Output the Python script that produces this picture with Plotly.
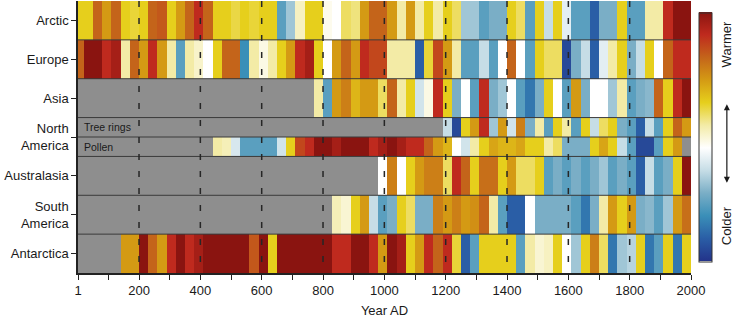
import plotly.graph_objects as go

# ---------------- data ----------------
# 30-year bins ending at 2000 (first bin 1-20)
bin_edges = [1] + list(range(20, 2001, 30))

N = None
arctic = [2, 2, 4, 3, 4, 2, 1.8, 2, 4, 4.2, 2, 3, 4, 5, 4, 2, 2, 1.7, 2, 1.8, 2, 2,
          -2.5, -1.5, 0.7, 2, 2, 0.2, 0, 1.5, 1.3, 3, 4, 4, 3, 1, 3, 1, 2, 1, 2, 1.5,
          -1.5, -1.5, -2.5, -2, -2, 2, 1.5, -2.5, 2, -1, 2, -0.5, -2.5, -2.5, -4, -2, -2,
          2, -2.5, -2.5, 1, 1, 5, 6, 6]
europe = [4, 6, 6, 5, 5.5, 1, 4, 3, 5, 3, 1, -2.5, 1, 0.6, 0, 2, 4, 4, -3, 1, 0.3, 1,
          2, 3, 5, 5.5, 2, 0, 3, 4, 3, 5, 4.5, 4.5, 1, 1, 1, -4, 1.8, 4.5, 3, 1, -2.5,
          -2.5, -1, -2.5, 0, 4, 0, -2.5, 2, 1.5, 1.5, -4.5, -2, -1, -4, -0.5, 1, 2, -2,
          -1, 2, 0, 4, 5, 5]
asia = [N] * 26 + [1, -2.5, 3, 3.5, 2.5, 3, 3, 1.5, 4, 1, 2, -0.8, 0.3, 5, 2, -2, 0,
                   -2.5, 5, -2, -1.5, 0, -2.5, -3.5, -2, 2, 0, -2.5, 3, -2, 0, 0, -1.5,
                   1, -2.5, -2, -1.8, 4, 2, 5, 6]
na_tree = [N] * 40 + [-1, -4.5, 2, 3, 5, -1.5, 3, -0.8, 3.5, -2, 1, -2.5, 2, 1, -2.5,
                      2, -1, 1.5, 2, -2, -2.5, -4, -1, -2.5, 2, 4, 3]
na_pollen = [N] * 15 + [1, 0.8, -0.7, -2.5, -2.5, -2.5, -2.5, -0.8, 2, 4.5, 5, 6, 6,
                        5.5, 6, 6, 6, 5, 5.5, 6, 5.5, 5, 5, 4, 3, 2.5, 0, -0.8, 1, 2,
                        2.8, 2.5, 2.5, 2.8, 2, 2, 1, 1.5, -2, -2, -2, 2, 2.8, 2, -1,
                        -2.5, -4.5, -4.5, -2.5, 2, 3, N]
australasia = [N] * 33 + [0, 3.5, 0, 2, 3, 3.5, 3.5, 1.5, 5, 4, 2, 3.8, 3.8, 2, 3,
                          1.5, 1.5, 2, -2.5, -2, -2.5, -2, -2.5, -2, -1.5, -2.5, -2,
                          -2.5, -4, -1, -2.5, -2, 2, 6]
s_america = [N] * 28 + [0.8, 0.5, 2, 3, -1, -2.5, -2, 2, 1.5, -2, -2, 3.5, 3, 3.5, 3,
                        3.2, 4, 1, -2.5, -4, -4, 0, -2, -2, -2, -2, -2.5, -3.5, -2, 1,
                        3, 2, 3, -2, -1.8, -2.5, -1.5, 3, 3.8]
antarctica = [N] * 5 + [3, 3, 6, 4, 3, 5, 6, 5, 5.5, 6, 6, 6, 6, 6, 4.2, 6, 2,
                        6, 6, 6, 6, 6, 6, 5, 5, 6, 6, 5, 3, 6, 5.5, 2, 3, 5, 4, 5, 1.8,
                        -4, -2.5, 2, 2, 2, 2, -2.5, 1, 0.5, 0.7, 2, 0, -1.5, 2, 3.5, 1.5,
                        -3.5, -1.5, -1.2, 2, -3.5, -2.5, 2, -3.5, 2]

rows = [arctic, europe, asia, na_tree, na_pollen, australasia, s_america, antarctica]
row_edges = [0, 1, 2, 3, 3.5, 4, 5, 6, 7]
row_labels = ["Arctic", "Europe", "Asia", "North<br>America", "Australasia",
              "South<br>America", "Antarctica"]
row_label_pos = [0.5, 1.5, 2.5, 3.5, 4.5, 5.5, 6.5]
sub_labels = ["Tree rings", "Pollen"]
sub_label_pos = [3.25, 3.75]

x_ticks = [1, 200, 400, 600, 800, 1000, 1200, 1400, 1600, 1800, 2000]
x_minor = [100, 300, 500, 700, 900, 1100, 1300, 1500, 1700, 1900]
dash_years = [200, 400, 600, 800, 1000, 1200, 1400, 1600, 1800]

# ---------------- style ----------------
FONT = "Arial, Liberation Sans, sans-serif"
TXT = "#1a1a1a"
GRAY = "#8e8e8e"
levels = [-5, -4, -3, -2, -1, 0, 1, 2, 3, 4, 5, 6]
colors = ["#23338a", "#2a5ea6", "#3a8fb8", "#7aaec6", "#c6dde6", "#ffffff",
          "#f3eba6", "#e6cf1c", "#d49a14", "#c4641a", "#bf2a1e", "#8a1410"]
zmin, zmax = levels[0], levels[-1]
colorscale = [[(l - zmin) / (zmax - zmin), c] for l, c in zip(levels, colors)]

fig = go.Figure()
fig.add_trace(go.Heatmap(
    z=rows, x=bin_edges, y=row_edges,
    colorscale=colorscale, zmin=zmin, zmax=zmax,
    hoverongaps=False,
    colorbar=dict(
        x=1.0135, xanchor="left", xpad=0,
        y=0.5, yanchor="middle", len=0.99, lenmode="fraction",
        thickness=13, outlinewidth=1, outlinecolor="#333",
        showticklabels=False, ticks="",
    ),
))

shapes = []
for yb in [1, 2, 3, 3.5, 4, 5, 6]:
    shapes.append(dict(type="line", xref="x", yref="y", x0=1, x1=2000, y0=yb, y1=yb,
                       line=dict(color="#3a3a3a", width=1)))
for xd in dash_years:
    shapes.append(dict(type="line", xref="x", yref="y", x0=xd, x1=xd, y0=0, y1=7,
                       line=dict(color="#262626", width=1.5, dash="6px,11px")))

annotations = []
for lab, yp in zip(sub_labels, sub_label_pos):
    annotations.append(dict(text=lab, xref="paper", yref="y", x=0.006, y=yp,
                            xanchor="left", yanchor="middle", showarrow=False,
                            font=dict(family=FONT, size=10.5, color=TXT)))
annotations.append(dict(text="Warmer", xref="paper", yref="paper", x=1.0585, y=0.84,
                        textangle=-90, showarrow=False, xanchor="center", yanchor="middle",
                        font=dict(family=FONT, size=13, color=TXT)))
annotations.append(dict(text="Colder", xref="paper", yref="paper", x=1.0585, y=0.175,
                        textangle=-90, showarrow=False, xanchor="center", yanchor="middle",
                        font=dict(family=FONT, size=13, color=TXT)))
annotations.append(dict(text="", xref="paper", yref="paper", x=1.0585, y=0.62,
                        ax=0, ay=80, axref="pixel", ayref="pixel",
                        showarrow=True, arrowhead=2, arrowside="end+start",
                        arrowsize=1, arrowwidth=1.2, arrowcolor=TXT))

fig.update_layout(
    width=735, height=324,
    margin=dict(l=78, r=44, t=1, b=51),
    paper_bgcolor="white", plot_bgcolor=GRAY,
    font=dict(family=FONT, size=13, color=TXT),
    shapes=shapes, annotations=annotations,
    showlegend=False,
)
fig.update_xaxes(
    range=[1, 2000], tickvals=x_ticks, ticktext=[str(v) for v in x_ticks],
    ticks="outside", ticklen=5, tickwidth=1.2, tickcolor="#222",
    minor=dict(tickvals=x_minor, ticks="outside", ticklen=5, tickwidth=1.2, tickcolor="#222"),
    showline=True, linecolor="#222", linewidth=1.5,
    showgrid=False, zeroline=False,
    tickfont=dict(family=FONT, size=13, color=TXT),
    title=dict(text="Year AD", font=dict(family=FONT, size=13, color=TXT), standoff=9),
)
fig.update_yaxes(
    range=[7, 0], tickvals=row_label_pos, ticktext=row_labels,
    ticks="outside", ticklen=5, tickwidth=1.2, tickcolor="#222",
    showline=True, linecolor="#222", linewidth=1.5,
    showgrid=False, zeroline=False,
    tickfont=dict(family=FONT, size=13, color=TXT),
)

fig.write_html("out.html")
